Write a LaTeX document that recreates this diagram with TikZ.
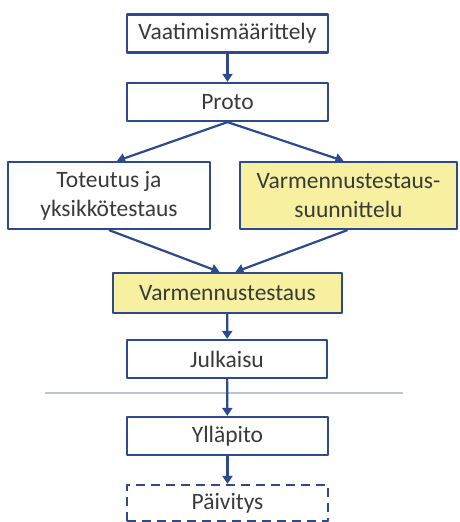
\documentclass[tikz,border=0pt]{standalone}
\usepackage{fontspec}
\setmainfont{Carlito}
\usetikzlibrary{arrows.meta}
\definecolor{boxblue}{RGB}{44,74,140}
\definecolor{boxyellow}{RGB}{246,240,160}
\definecolor{seplinecol}{RGB}{185,198,216}
\definecolor{txtgray}{RGB}{58,58,58}
\begin{document}
\begin{tikzpicture}[x=1pt, y=-1pt, line join=round,
    phase/.style={draw=boxblue, line width=2.2pt, fill=white, align=center,
      text=txtgray, font=\fontsize{23.5}{29}\selectfont, inner sep=0pt,
      minimum width=201pt, minimum height=38pt},
    flow/.style={draw=boxblue, line width=2.2pt, -{Triangle[length=8pt,width=10pt]}}]
    \useasboundingbox (0,0) rectangle (460,522);
    % phases
    \node[phase] (vaat) at (227.5,33.5) {Vaatimismäärittely};
    \node[phase] (proto) at (227.5,102) {Proto};
    \node[phase, minimum width=202pt, minimum height=67pt] (tot) at (109,195.5) {Toteutus ja\\yksikkötestaus};
    \node[phase, fill=boxyellow, minimum width=217pt, minimum height=67pt] (suun) at (348.5,195.5) {Varmennustestaus-\\suunnittelu};
    \node[phase, fill=boxyellow, minimum width=229pt, minimum height=40pt] (varm) at (227.5,293) {Varmennustestaus};
    \node[phase, minimum width=200pt] (julk) at (227,359) {Julkaisu};
    \node[phase] (yllap) at (227.5,436) {Ylläpito};
    \node[phase, dashed, dash pattern=on 9pt off 6pt, minimum height=36pt] (paiv) at (227.5,503) {Päivitys};
    % separator
    \draw[seplinecol, line width=1.5pt] (45,393) -- (403,393);
    % arrows
    \draw[flow] (vaat) -- (proto);
    \draw[flow] (proto.south) -- ([xshift=8pt]tot.north);
    \draw[flow] (proto.south) -- ([xshift=-5pt]suun.north);
    \draw[flow] (tot.south) -- ([xshift=-8pt]varm.north);
    \draw[flow] ([xshift=-1pt]suun.south) -- ([xshift=8pt]varm.north);
    \draw[flow] (varm) -- (julk);
    \draw[flow] (julk) -- (yllap);
    \draw[flow] (yllap) -- (paiv);
\end{tikzpicture}
\end{document}
